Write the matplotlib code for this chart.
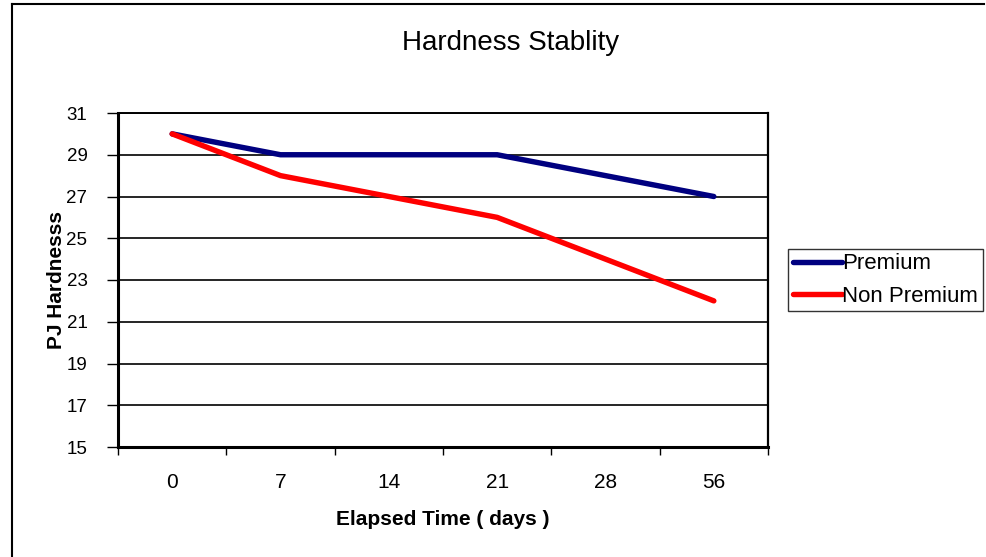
import matplotlib.pyplot as plt
from matplotlib.lines import Line2D

# data
days = ['0', '7', '14', '21', '28', '56']
premium = [30, 29, 29, 29, 28, 27]
non_premium = [30, 28, 27, 26, 24, 22]
y_ticks = [15, 17, 19, 21, 23, 25, 27, 29, 31]

plt.rcParams['font.family'] = ['Liberation Sans', 'DejaVu Sans']

fig = plt.figure(figsize=(9.87, 5.57), dpi=100)
ax = fig.add_axes([118 / 987, 1 - 447 / 557, 650 / 987, 334 / 557])

x = range(len(days))
ax.plot(x, premium, color='#000080', lw=3.9, label='Premium', solid_capstyle='round')
ax.plot(x, non_premium, color='#ff0000', lw=3.9, label='Non Premium', solid_capstyle='round')

ax.set_xlim(-0.5, len(days) - 0.5)
ax.set_ylim(15, 31)
ax.set_yticks(y_ticks)
ax.set_yticklabels([str(v) for v in y_ticks], fontsize=13.5)
ax.set_xticks([i - 0.5 for i in range(len(days) + 1)], minor=False)
ax.set_xticklabels([])
ax.set_xticks(list(x), minor=True)
ax.set_xticklabels(days, minor=True, fontsize=15)
ax.tick_params(axis='x', which='major', length=6, width=1, direction='out')
ax.tick_params(axis='x', which='minor', length=0, pad=19)
ax.tick_params(axis='y', length=8, width=1, direction='out', pad=14)

# horizontal gridlines
ax.grid(axis='y', color='black', lw=1.2)
ax.set_axisbelow(True)
for side in ['left', 'bottom', 'top', 'right']:
    ax.spines[side].set_linewidth(2.2)
ax.spines['top'].set_linewidth(1.4)
ax.spines['right'].set_linewidth(1.6)

ax.set_xlabel('Elapsed Time ( days )', fontsize=15, fontweight='bold', labelpad=13)
ax.set_ylabel('PJ Hardnesss', fontsize=15, fontweight='bold', labelpad=0)

fig.text(511 / 987, 1 - 43 / 557, 'Hardness Stablity', fontsize=20, ha='center', va='center')

leg = ax.legend(loc='center left', bbox_to_anchor=(788 / 987, 1 - 280 / 557),
                bbox_transform=fig.transFigure, fontsize=16, frameon=True, fancybox=False,
                handlelength=2.2, handletextpad=0.0, borderpad=0.22, labelspacing=0.5,
                borderaxespad=0)
leg.get_frame().set_edgecolor('black')
leg.get_frame().set_linewidth(1.0)

# outer border (left and top only)
fig.add_artist(Line2D([11.5 / 987, 11.5 / 987], [0, 1 - 4 / 557], color='black', lw=1.5,
                      transform=fig.transFigure))
fig.add_artist(Line2D([11.5 / 987, 984 / 987], [1 - 4 / 557, 1 - 4 / 557], color='black', lw=1.5,
                      transform=fig.transFigure))

fig.savefig('out.png', dpi=100)
